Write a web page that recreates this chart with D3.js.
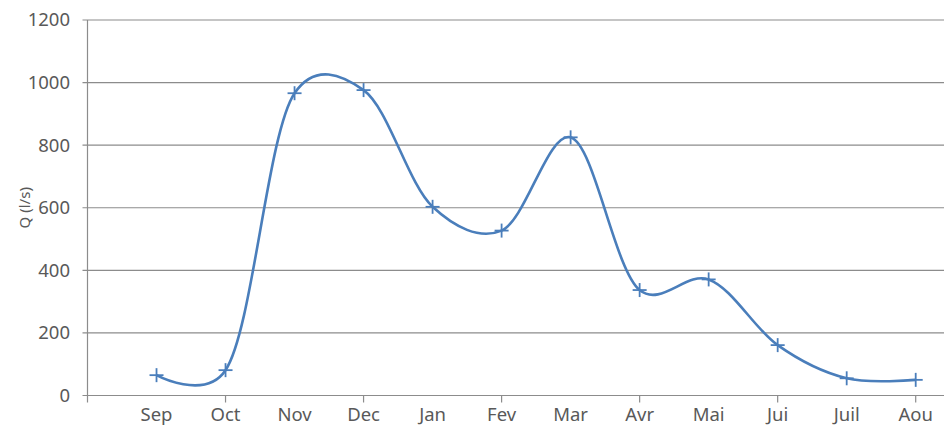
<!DOCTYPE html>
<html>
<head>
<meta charset="utf-8">
<script src="https://cdn.jsdelivr.net/npm/d3@7"></script>
<style>
  body { margin: 0; background: #fff; }
  text { font-family: "Noto Sans", "Open Sans", sans-serif; fill: #595959; }
</style>
</head>
<body>
<div id="chart"></div>
<script>
const months = ["Sep", "Oct", "Nov", "Dec", "Jan", "Fev", "Mar", "Avr", "Mai", "Jui", "Juil", "Aou"];
const flow = [65, 81, 966, 976, 603, 527, 825, 337, 371, 161, 55, 50];
const yTicks = [0, 200, 400, 600, 800, 1000, 1200];
const yTitle = "Q (l/s)";

const width = 944, height = 425;
const plotLeft = 87.5, plotTop = 20, plotBottom = 395.5;

const svg = d3.select("#chart").append("svg")
    .attr("width", width)
    .attr("height", height);

// months sit at 1..12, the left axis is at 0
const x = d3.scaleLinear().domain([0, 12.41]).range([plotLeft, width]);
const y = d3.scaleLinear().domain([0, 1200]).range([plotBottom, plotTop]);

const points = months.map((m, i) => ({ name: m, idx: i + 1, value: flow[i] }));

// horizontal grid
svg.append("g")
    .selectAll("line")
    .data(yTicks)
    .join("line")
    .attr("x1", plotLeft - 5)
    .attr("x2", width)
    .attr("y1", d => y(d))
    .attr("y2", d => y(d))
    .attr("stroke", "#8c8c8c")
    .attr("stroke-width", 1.2);

// left axis line
svg.append("line")
    .attr("x1", plotLeft).attr("x2", plotLeft)
    .attr("y1", plotTop).attr("y2", plotBottom + 7)
    .attr("stroke", "#8c8c8c")
    .attr("stroke-width", 1.2);

// y labels
svg.append("g")
    .selectAll("text")
    .data(yTicks)
    .join("text")
    .attr("x", 70)
    .attr("y", d => y(d))
    .attr("dy", "0.35em")
    .attr("text-anchor", "end")
    .attr("font-size", "18.5px")
    .text(d => d);

svg.append("text")
    .attr("transform", `translate(30,${y(600)}) rotate(-90)`)
    .attr("text-anchor", "middle")
    .attr("font-size", "15px")
    .text(yTitle);

// x ticks on every other month
svg.append("g")
    .selectAll("line")
    .data(points.filter(d => d.idx % 2 === 0))
    .join("line")
    .attr("x1", d => x(d.idx)).attr("x2", d => x(d.idx))
    .attr("y1", plotBottom).attr("y2", plotBottom + 7)
    .attr("stroke", "#8c8c8c")
    .attr("stroke-width", 1.2);

// x labels
svg.append("g")
    .selectAll("text")
    .data(points)
    .join("text")
    .attr("x", d => x(d.idx))
    .attr("y", 421)
    .attr("text-anchor", "middle")
    .attr("font-size", "18.5px")
    .text(d => d.name);

// smoothed series
const line = d3.line()
    .x(d => x(d.idx))
    .y(d => y(d.value))
    .curve(d3.curveCatmullRom.alpha(0.2));

svg.append("path")
    .datum(points)
    .attr("fill", "none")
    .attr("stroke", "#4a7ebb")
    .attr("stroke-width", 2.6)
    .attr("d", line);

// plus markers
const mk = svg.append("g")
    .attr("stroke", "#4a7ebb")
    .attr("stroke-width", 1.8)
    .selectAll("g")
    .data(points)
    .join("g")
    .attr("transform", d => `translate(${x(d.idx)},${y(d.value)})`);
mk.append("line").attr("x1", -7).attr("x2", 7);
mk.append("line").attr("y1", -7).attr("y2", 7);
</script>
</body>
</html>
